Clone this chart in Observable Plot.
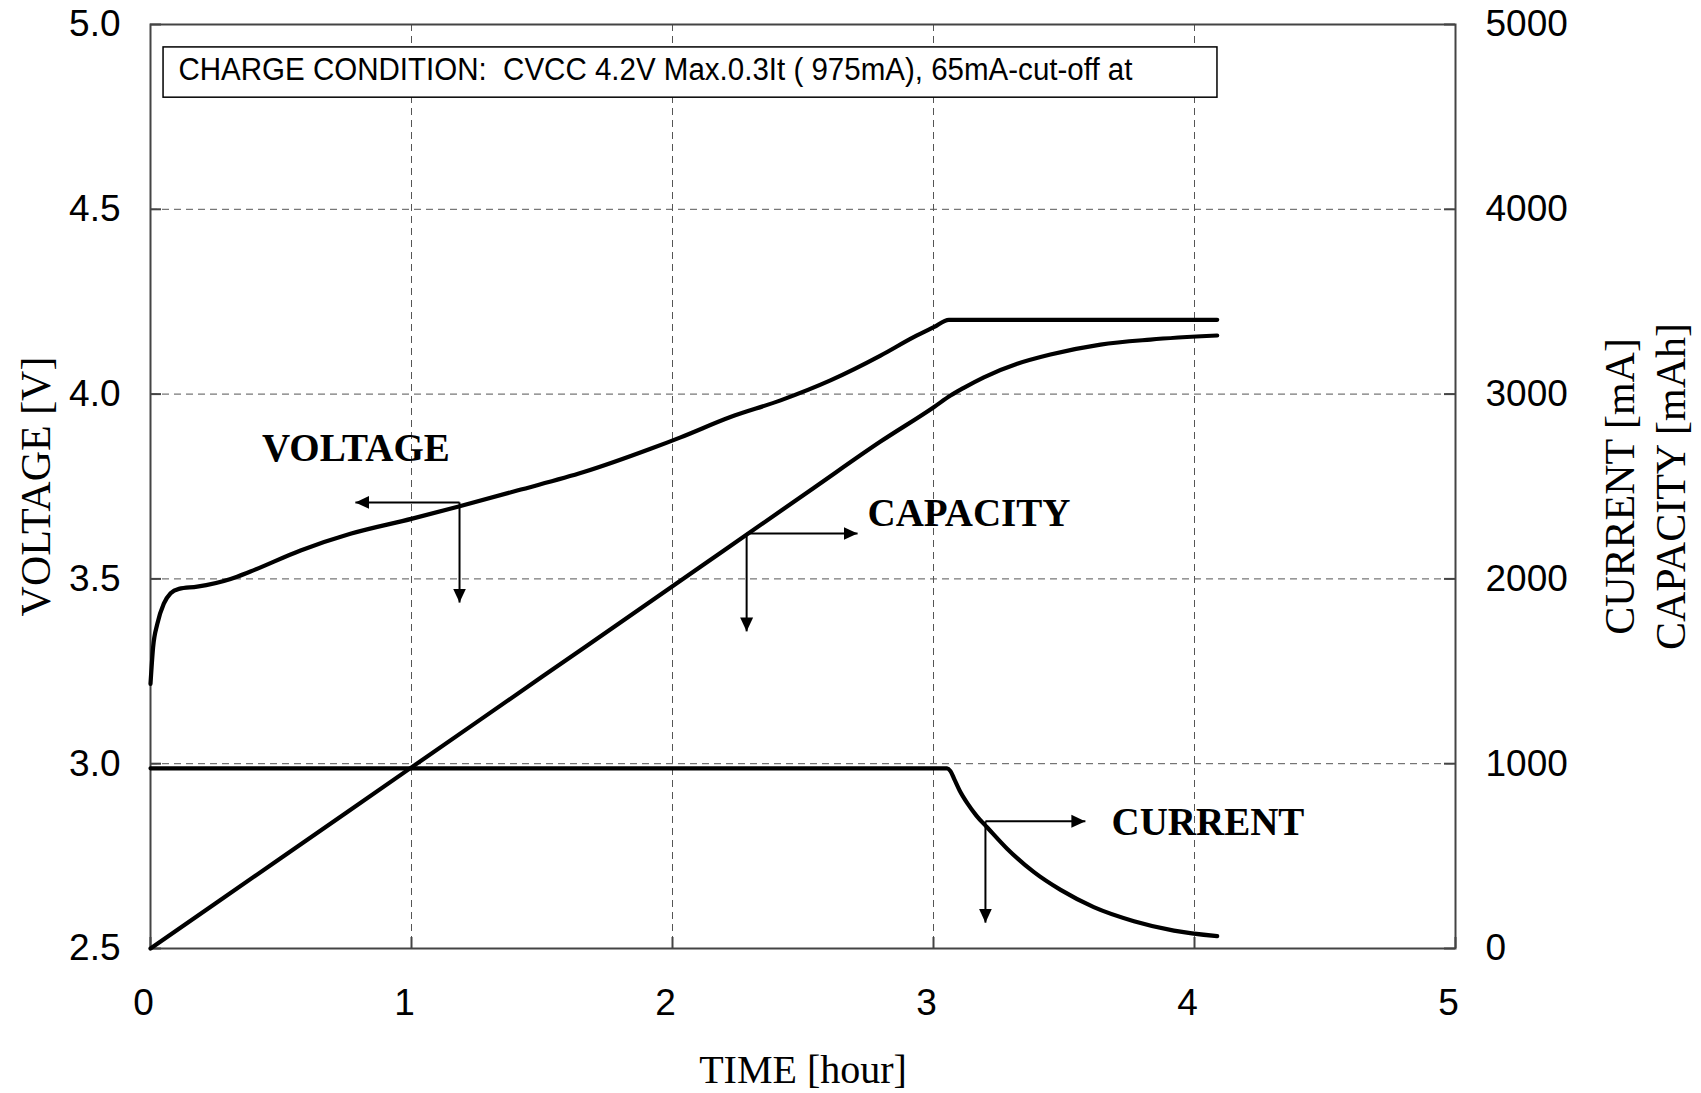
<!DOCTYPE html>
<html>
<head>
<meta charset="utf-8">
<script src="https://cdn.jsdelivr.net/npm/d3@7"></script>
<script src="https://cdn.jsdelivr.net/npm/@observablehq/plot@0.6"></script>
<style>
  html, body { margin: 0; padding: 0; background: #fff; }
  #chart { width: 1701px; height: 1093px; }
</style>
</head>
<body>
<div id="chart"></div>
<script>
// ---- data ----
// Voltage [V] vs time [hour]
const voltageTime = [0, 0.01, 0.026, 0.051, 0.077, 0.109, 0.179, 0.307, 0.383, 0.575, 0.766, 1.003, 1.181, 1.405, 1.66, 1.916, 2.031, 2.222, 2.414, 2.605, 2.797, 2.924, 3.001, 3.059, 4.087];
const voltageValue = [3.216, 3.315, 3.378, 3.433, 3.461, 3.473, 3.479, 3.500, 3.520, 3.577, 3.622, 3.663, 3.696, 3.739, 3.789, 3.852, 3.883, 3.938, 3.983, 4.037, 4.104, 4.154, 4.181, 4.201, 4.201];
// Capacity [mAh] vs time
const capacityTime = [0, 0.5, 1.0, 1.5, 2.0, 2.197, 2.541, 2.797, 3.001, 3.065, 3.116, 3.193, 3.321, 3.448, 3.640, 3.831, 4.087];
const capacityValue = [0, 490, 980, 1470, 1960, 2154, 2492, 2743, 2929, 2992, 3034, 3091, 3164, 3214, 3268, 3295, 3317];
// Current [mA] vs time
const currentTime = [0, 3.052, 3.065, 3.08, 3.10, 3.13, 3.165, 3.206, 3.282, 3.385, 3.487, 3.614, 3.768, 3.921, 4.087];
const currentValue = [975, 975, 960, 915, 855, 785, 718, 655, 540, 413, 317, 224, 148, 97, 67];

// ---- axes ----
const timeTicks = [0, 1, 2, 3, 4, 5];
const voltTicks = [2.5, 3.0, 3.5, 4.0, 4.5, 5.0];
const mATicks = [0, 1000, 2000, 3000, 4000, 5000];
const xTitle = "TIME [hour]";
const yLeftTitle = "VOLTAGE [V]";
const yRightTitle = "CURRENT [mA]\nCAPACITY [mAh]";

// ---- annotations ----
const noteText = "CHARGE CONDITION:  CVCC 4.2V Max.0.3It ( 975mA), 65mA-cut-off at";
const noteBox = {t1: 0.050, t2: 4.088, v1: 4.802, v2: 4.938, textT: 0.107, textV: 4.851};
const seriesNames = ["VOLTAGE", "CAPACITY", "CURRENT"];
const nameTime = [0.427, 2.747, 3.682];
const nameVolt = [3.820, 3.644, 2.806];          // baseline, in left-axis units
const arrowCornerT = [1.184, 2.284, 3.199];
const arrowCornerV = [3.707, 3.623, 2.844];
const arrowTipT = [0.785, 2.709, 3.582];          // horizontal arrow tip
const arrowTipV = [3.436, 3.358, 2.570];          // vertical arrow tip

// right axis (mA / mAh) mapped onto the voltage scale
const toV = (m) => 2.5 + m / 2000;

const voltage = voltageTime.map((t, i) => ({t, v: voltageValue[i]}));
const capacity = capacityTime.map((t, i) => ({t, v: toV(capacityValue[i])}));
const current = currentTime.map((t, i) => ({t, v: toV(currentValue[i])}));
const labels = seriesNames.map((name, i) => ({name, t: nameTime[i], v: nameVolt[i]}));
const arrowsH = arrowCornerT.map((t, i) => ({t1: t, v1: arrowCornerV[i], t2: arrowTipT[i], v2: arrowCornerV[i]}));
const arrowsV = arrowCornerT.map((t, i) => ({t1: t, v1: arrowCornerV[i], t2: t, v2: arrowTipV[i]}));

function headMarker(color, context) {
  const doc = (context && context.document) || document;
  const ns = "http://www.w3.org/2000/svg";
  const m = doc.createElementNS(ns, "marker");
  m.setAttribute("viewBox", "-14 -7 14 14");
  m.setAttribute("markerWidth", 14);
  m.setAttribute("markerHeight", 14);
  m.setAttribute("markerUnits", "userSpaceOnUse");
  m.setAttribute("orient", "auto");
  m.setAttribute("refX", 0);
  m.setAttribute("refY", 0);
  const p = doc.createElementNS(ns, "path");
  p.setAttribute("d", "M-14,-6.5L0,0L-14,6.5Z");
  p.setAttribute("fill", color);
  p.setAttribute("stroke", "none");
  m.appendChild(p);
  return m;
}

const W = 1701, H = 1093, ML = 150, MR = 246, MT = 24, MB = 145;
const innerW = W - ML - MR, innerH = H - MT - MB;
const sans = "'Liberation Sans', Arial, Helvetica, sans-serif";
const serif = "'Liberation Serif', 'Times New Roman', Times, serif";
const grid = {stroke: "#555", strokeWidth: 1, strokeDasharray: "7,5", strokeOpacity: 1};
const lineStyle = {x: "t", y: "v", stroke: "#000", strokeWidth: 4.2, strokeLinecap: "round", strokeLinejoin: "round", curve: "monotone-x"};

const chart = Plot.plot({
  width: W, height: H,
  marginLeft: ML, marginRight: MR, marginTop: MT, marginBottom: MB,
  x: {domain: [0, 5]},
  y: {domain: [2.5, 5]},
  style: {background: "#fff", color: "#000", fontFamily: sans, fontSize: "37px"},
  marks: [
    Plot.ruleX(timeTicks.slice(1, -1), grid),
    Plot.ruleY(voltTicks.slice(1, -1), grid),
    // inward tick marks
    Plot.tickY(voltTicks, {y: d => d, stroke: "#444", strokeWidth: 2, insetRight: innerW - 11}),
    Plot.tickY(voltTicks, {y: d => d, stroke: "#444", strokeWidth: 2, insetLeft: innerW - 11}),
    Plot.tickX(timeTicks, {x: d => d, stroke: "#444", strokeWidth: 2, insetTop: innerH - 11}),
    Plot.frame({stroke: "#444", strokeWidth: 2}),
    Plot.axisY(voltTicks, {anchor: "left", tickSize: 0, tickPadding: 30, tickFormat: d => d.toFixed(1), label: null, fontSize: 37}),
    Plot.axisY(mATicks.map(toV), {anchor: "right", tickSize: 0, tickPadding: 30, tickFormat: d => String(Math.round((d - 2.5) * 2000)), label: null, fontSize: 37}),
    Plot.axisX(timeTicks, {anchor: "bottom", tickSize: 0, tickPadding: 40, dx: -7, tickFormat: d => String(d), label: null, fontSize: 37}),
    // axis titles
    Plot.text([yLeftTitle], {frameAnchor: "left", dx: -114, rotate: -90, textAnchor: "middle", lineAnchor: "middle", fontFamily: serif, fontSize: 42}),
    Plot.text([yRightTitle], {frameAnchor: "right", dx: 188, rotate: -90, textAnchor: "middle", lineAnchor: "middle", lineHeight: 1.2, fontFamily: serif, fontSize: 42}),
    Plot.text([xTitle], {frameAnchor: "bottom", dy: 134, textAnchor: "middle", lineAnchor: "bottom", fontFamily: serif, fontSize: 40}),
    // condition box
    Plot.rect([noteBox], {x1: "t1", x2: "t2", y1: "v1", y2: "v2", fill: "#fff", stroke: "#000", strokeWidth: 1.5}),
    Plot.text([noteBox], {x: "textT", y: "textV", text: () => noteText, textAnchor: "start", lineAnchor: "bottom", fontFamily: sans, fontSize: 31}),
    // series
    Plot.line(capacity, lineStyle),
    Plot.line(current, lineStyle),
    Plot.line(voltage, lineStyle),
    // series labels and arrows
    Plot.text(labels, {x: "t", y: "v", text: "name", textAnchor: "start", lineAnchor: "bottom", fontFamily: serif, fontWeight: "bold", fontSize: 39}),
    Plot.link(arrowsH, {x1: "t1", y1: "v1", x2: "t2", y2: "v2", stroke: "#000", strokeWidth: 2, markerEnd: headMarker}),
    Plot.link(arrowsV, {x1: "t1", y1: "v1", x2: "t2", y2: "v2", stroke: "#000", strokeWidth: 2, markerEnd: headMarker})
  ]
});

chart.querySelectorAll("text").forEach(el => {
  if (el.textContent === noteText) {
    el.setAttribute("textLength", 954);
    el.setAttribute("lengthAdjust", "spacingAndGlyphs");
  }
});
document.getElementById("chart").appendChild(chart);
</script>
</body>
</html>
